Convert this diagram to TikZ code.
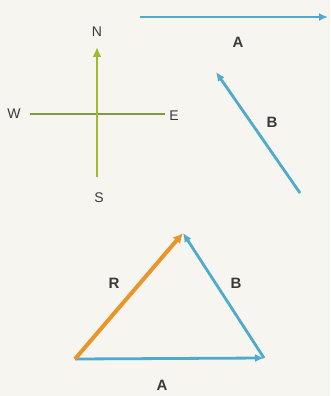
\documentclass[tikz,border=0pt]{standalone}
\usepackage{fontspec}
\setmainfont{Liberation Sans}
\usetikzlibrary{arrows.meta}
\definecolor{bg}{HTML}{F7F5F0}
\definecolor{vblue}{HTML}{4FAACB}
\definecolor{vgreen}{HTML}{9DBB2E}
\definecolor{hgreen}{HTML}{7E9A45}
\definecolor{vorange}{HTML}{E9952C}
\definecolor{txt}{HTML}{3A3A3A}
\tikzset{
  lab/.style={text=txt,font=\bfseries\fontsize{15}{15}\selectfont,inner sep=0pt},
  clab/.style={text=txt,font=\fontsize{14}{14}\selectfont,inner sep=0pt},
  bvec/.style={draw=vblue,line width=2.8pt,-{Latex[length=9pt,width=8pt]}},
  ovec/.style={draw=vorange,line width=4pt,-{Latex[length=10pt,width=10pt]}},
}
\begin{document}
\begin{tikzpicture}[x=1pt,y=-1pt]
\fill[bg] (0,0) rectangle (330,396);
\useasboundingbox (0,0) rectangle (330,396);
% vector A (top)
\coordinate (a1) at (140,17);
\coordinate (a2) at (328,17);
\draw[bvec] (a1) -- (a2);
\node[lab] (la) at (238,42) {A};
% vector B (top)
\coordinate (b1) at (300,193);
\coordinate (b2) at (216,72);
\draw[bvec] (b1) -- (b2);
\node[lab] (lb) at (272,122) {B};
% compass
\node[clab] (N) at (97,32) {N};
\node[clab] (S) at (99,198) {S};
\node[clab] (W) at (14,114) {W};
\node[clab] (E) at (174,116) {E};
\coordinate (sE) at (97,177);
\coordinate (nE) at (97,47);
\coordinate (wE) at (30,114);
\coordinate (eE) at (165,114);
\draw[hgreen,line width=1.6pt] (wE) -- (eE);
\draw[vgreen,line width=2.6pt,-{Latex[length=10pt,width=9pt]}] (sE) -- (nE);
% triangle
\coordinate (P) at (75,359);
\coordinate (Q) at (264,358);
\coordinate (T) at (183,233);
\draw[bvec] (P) -- (Q);
\draw[bvec] (Q) -- (T);
\draw[ovec] (P) -- (T);
\node[lab] (lr) at (114,283) {R};
\node[lab] (lb2) at (236,283) {B};
\node[lab] (la2) at (162,385) {A};
\end{tikzpicture}
\end{document}
